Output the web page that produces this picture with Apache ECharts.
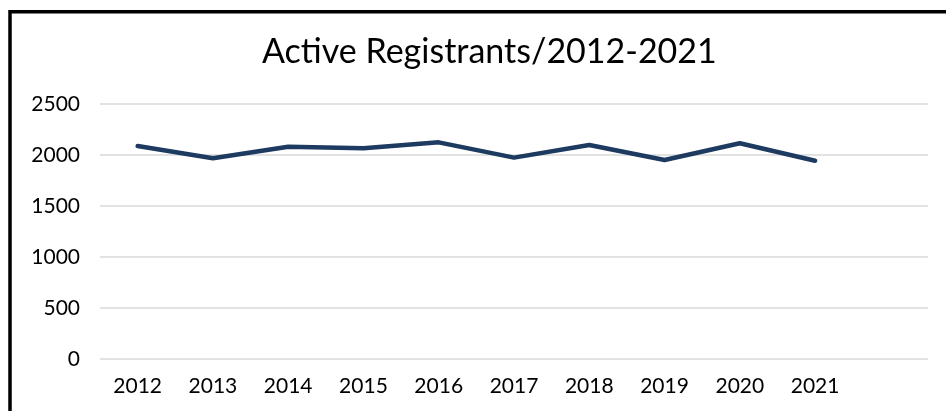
<!DOCTYPE html>
<html><head><meta charset="utf-8">
<script src="https://cdn.jsdelivr.net/npm/echarts@6/dist/echarts.min.js"></script>
<style>html,body{margin:0;padding:0;background:#fff}#c{width:946px;height:411px}</style>
</head><body><div id="c"></div>
<script>
const years = ['2012','2013','2014','2015','2016','2017','2018','2019','2020','2021'];
const registrants = [2088, 1968, 2081, 2066, 2124, 1974, 2098, 1951, 2115, 1944];
const yTicks = [0, 500, 1000, 1500, 2000, 2500];

const chart = echarts.init(document.getElementById('c'), null, {renderer: 'canvas'});
const font = 'Lato, "Noto Sans", sans-serif';
chart.setOption({
  animation: false,
  title: {
    text: 'Active Registrants/2012-2021',
    left: 257, top: 30,
    textStyle: {fontFamily: font, fontSize: 34, fontWeight: 'normal', color: '#000'}
  },
  graphic: [{
    type: 'rect', silent: true,
    shape: {x: 10, y: 11.75, width: 1000, height: 500},
    style: {fill: 'none', stroke: '#000', lineWidth: 3.5}
  }],
  grid: {left: 100, right: 18, top: 104, bottom: 52, containLabel: false},
  xAxis: {
    type: 'category',
    data: years.concat(['']),
    boundaryGap: true,
    axisLine: {show: false},
    axisTick: {show: false},
    axisLabel: {fontFamily: font, fontSize: 21, color: '#000', margin: 17}
  },
  yAxis: {
    type: 'value',
    min: yTicks[0], max: yTicks[yTicks.length - 1], interval: 500,
    axisLine: {show: false},
    axisTick: {show: false},
    axisLabel: {fontFamily: font, fontSize: 21, color: '#000', margin: 20, formatter: v => String(v)},
    splitLine: {lineStyle: {color: '#d9d9d9', width: 1.5}}
  },
  series: [{
    type: 'line',
    data: registrants,
    showSymbol: false,
    symbol: 'none',
    lineStyle: {color: '#1d3a60', width: 4.5, cap: 'round', join: 'round'}
  }]
});
</script></body></html>
